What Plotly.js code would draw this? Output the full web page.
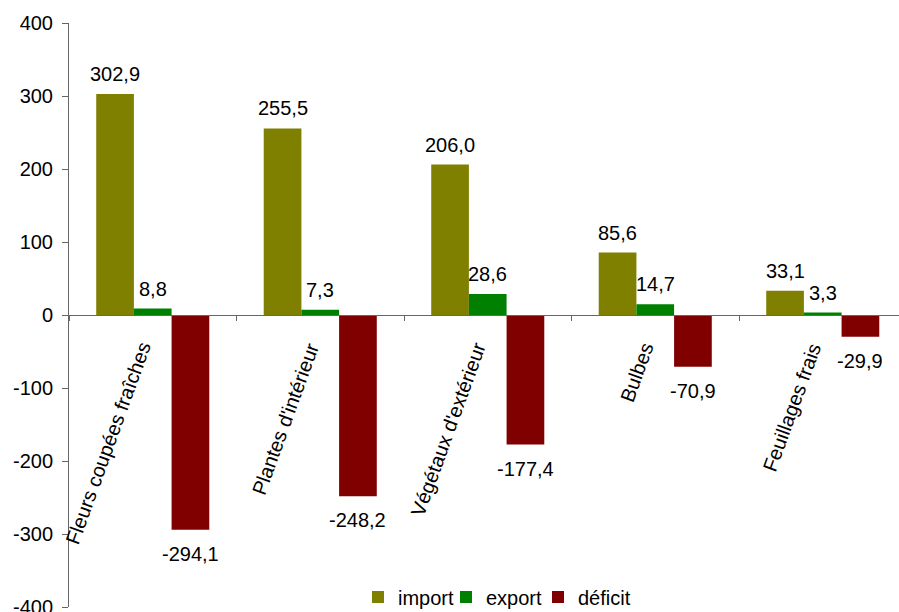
<!DOCTYPE html>
<html>
<head>
<meta charset="utf-8">
<script src="https://cdn.plot.ly/plotly-3.0.1.min.js"></script>
<style>html,body{margin:0;padding:0;background:#fff;}#chart{width:899px;height:612px;}</style>
</head>
<body>
<div id="chart"></div>
<script>
const categories = ["Fleurs coupées fraîches", "Plantes d'intérieur", "Végétaux d'extérieur", "Bulbes", "Feuillages frais"];
const importVals = [302.9, 255.5, 206.0, 85.6, 33.1];
const exportVals = [8.8, 7.3, 28.6, 14.7, 3.3];
const deficitVals = [-294.1, -248.2, -177.4, -70.9, -29.9];
const seriesNames = ["import", "export", "déficit"];
const yTicks = [-400, -300, -200, -100, 0, 100, 200, 300, 400];

const colors = ["#808000", "#008000", "#800000"];
const FONT = "Arial, 'Liberation Sans', sans-serif";
const FS = 20;
const idx = categories.map((c, i) => i);
const allSeries = [importVals, exportVals, deficitVals];
const bargap = 0.325;
const bw = (1 - bargap) / 3;
const legendIds = ['legend', 'legend2', 'legend3'];
const legendLeftPx = [358, 446, 538];

const traces = allSeries.map((vals, s) => ({
  type: 'bar',
  name: seriesNames[s],
  x: idx,
  y: vals,
  legend: legendIds[s],
  marker: {color: colors[s], line: {width: 0}},
  hoverinfo: 'none'
}));

const fmt = v => v.toFixed(1).replace('.', ',');
const annotations = [];
allSeries.forEach((vals, s) => {
  vals.forEach((v, i) => {
    annotations.push({
      x: i + (s - 1) * bw, y: v, xref: 'x', yref: 'y',
      text: fmt(v), showarrow: false,
      xanchor: 'center', yanchor: v >= 0 ? 'bottom' : 'top',
      yshift: v >= 0 ? 7 : -11,
      font: {family: FONT, size: FS, color: '#000'}
    });
  });
});
categories.forEach((c, i) => {
  annotations.push({
    x: i, y: 0, xref: 'x', yref: 'y',
    text: c, showarrow: false, textangle: -70,
    xanchor: 'right', yanchor: 'top', xshift: 5, yshift: -22,
    font: {family: FONT, size: FS, color: '#000'}
  });
});

const layout = {
  width: 899, height: 612,
  margin: {l: 69, r: 0, t: 23, b: 5, pad: 0, autoexpand: false},
  paper_bgcolor: '#fff', plot_bgcolor: '#fff',
  barmode: 'group', bargap: bargap, bargroupgap: 0,
  font: {family: FONT, size: FS, color: '#000'},
  showlegend: true,
  xaxis: {
    type: 'linear',
    range: [-0.5, -0.5 + 830 / 167.5],
    tickvals: idx.map(i => i - 0.5),
    showticklabels: false,
    ticks: 'outside', ticklen: 5, tickcolor: '#666', tickwidth: 1,
    showline: true, linecolor: '#666', linewidth: 1,
    showgrid: false, zeroline: false,
    anchor: 'free', position: 0.5, fixedrange: true
  },
  yaxis: {
    range: [-400, 400],
    tickvals: yTicks,
    ticktext: yTicks.map(String),
    ticks: 'outside', ticklen: 6, tickcolor: '#666', tickwidth: 1,
    showline: true, linecolor: '#666', linewidth: 1,
    showgrid: false, zeroline: false,
    ticklabeloverflow: 'allow', ticklabelstandoff: 5,
    tickfont: {family: FONT, size: FS, color: '#000'},
    fixedrange: true
  },
  annotations: annotations
};
legendIds.forEach((id, s) => {
  layout[id] = {
    orientation: 'h', x: (legendLeftPx[s] - 69) / 830, xanchor: 'left',
    y: 0.017, yanchor: 'middle',
    font: {family: FONT, size: FS, color: '#000'},
    bgcolor: 'rgba(0,0,0,0)', itemclick: false, itemwidth: 30
  };
});

Plotly.newPlot('chart', traces, layout, {staticPlot: true, displayModeBar: false});
</script>
</body>
</html>
